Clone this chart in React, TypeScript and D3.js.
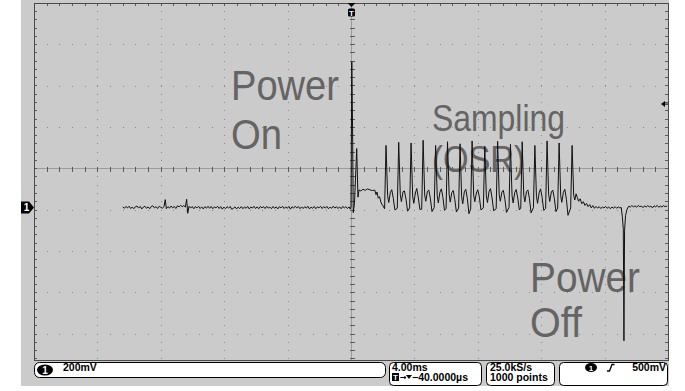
import React from 'react';
import * as d3 from 'd3';

type Pt = [number, number];

// channel 1 trace: [time in ms from trigger, level in mV]
const preTrigger: Pt[] = [
  [-14.4, 3], [-14.3, -4], [-14.2, 5], [-14.1, -2], [-14.0, 6], [-13.9, -5], [-13.8, 2], [-13.7, -6],
  [-13.6, 4], [-13.5, 7], [-13.4, -3], [-13.3, 5], [-13.2, -7], [-13.1, 2], [-13.0, 6], [-12.9, -4],
  [-12.8, 3], [-12.7, -6], [-12.6, 5], [-12.5, 8], [-12.4, -2], [-12.3, 4], [-12.2, -5], [-12.1, 6],
  [-12.0, 1], [-11.9, -4], [-11.8, 5], [-11.72, 38], [-11.65, -6], [-11.55, 4], [-11.45, -3], [-11.35, 7],
  [-11.25, -2], [-11.15, 5], [-11.05, -5], [-10.95, 8], [-10.85, 3], [-10.75, 10], [-10.65, 4], [-10.55, 9],
  [-10.45, 2], [-10.37, 40], [-10.3, -28], [-10.22, 6], [-10.12, -3], [-10.02, 5], [-9.92, -6], [-9.82, 4],
  [-9.72, -2], [-9.62, 6], [-9.52, -5], [-9.42, 3], [-9.32, -7], [-9.22, 4], [-9.12, -3], [-9.02, 6],
  [-8.92, -4], [-8.82, 5], [-8.72, -6], [-8.62, 3], [-8.52, -2], [-8.42, 6], [-8.32, -5], [-8.22, 4],
  [-8.12, -8], [-8.02, 2], [-7.92, -6], [-7.82, 4], [-7.72, -3], [-7.62, 5], [-7.52, -9], [-7.42, -4],
  [-7.32, 3], [-7.22, -7], [-7.12, 2], [-7.02, -5], [-6.92, 4], [-6.82, -6], [-6.72, 3], [-6.62, -4],
  [-6.52, 5], [-6.42, -7], [-6.32, 2], [-6.22, -3], [-6.12, 6], [-6.02, -5], [-5.92, 3], [-5.82, -6],
  [-5.72, 5], [-5.62, -2], [-5.52, 4], [-5.42, -5], [-5.32, 6], [-5.22, -3], [-5.12, 2], [-5.02, -6],
  [-4.92, 5], [-4.82, -4], [-4.72, 3], [-4.62, -7], [-4.52, 4], [-4.42, -2], [-4.32, 6], [-4.22, -5],
  [-4.12, 3], [-4.02, -4], [-3.92, 5], [-3.82, -8], [-3.72, 4], [-3.62, -3], [-3.52, 6], [-3.42, -2],
  [-3.32, 5], [-3.22, -6], [-3.12, 3], [-3.02, -5], [-2.92, 4], [-2.82, -3], [-2.72, 6], [-2.62, -7],
  [-2.52, 2], [-2.42, -4], [-2.32, 5], [-2.22, -6], [-2.12, 3], [-2.02, -2], [-1.92, 6], [-1.82, -5],
  [-1.72, 4], [-1.62, -3], [-1.52, 5], [-1.42, -6], [-1.32, 2], [-1.22, -4], [-1.12, 6], [-1.02, -3],
  [-0.92, 4], [-0.82, -5], [-0.72, 3], [-0.62, -6], [-0.52, 5], [-0.42, -2], [-0.32, 4], [-0.22, -5],
  [-0.12, 3], [-0.05, -8],
];

const powerOn: Pt[] = [
  [0.0, 2], [0.05, 705], [0.1, 380], [0.14, -25], [0.22, 20], [0.36, 285], [0.44, 50], [0.5, 85],
  [0.62, 80], [0.75, 88], [0.9, 83], [1.05, 90], [1.2, 85], [1.35, 82], [1.5, 84], [1.58, 62],
  [1.64, 75], [1.72, 45], [1.8, 52], [1.9, 22], [2.02, 8],
];

const samplingPulses: Pt[] = [
  [2.12, -6], [2.21, 300], [2.31, 58], [2.38, 24], [2.48, 72], [2.57, 86], [2.67, 44], [2.77, -12],
  [2.92, -4], [3.01, 315], [3.11, 62], [3.18, 28], [3.28, 76], [3.37, 80], [3.47, 40], [3.57, -18],
  [3.70, -2], [3.79, 312], [3.89, 55], [3.96, 20], [4.06, 70], [4.15, 92], [4.25, 46], [4.35, -10],
  [4.46, -8], [4.55, 325], [4.65, 60], [4.72, 30], [4.82, 78], [4.91, 84], [5.01, 42], [5.11, -20],
  [5.25, 0], [5.34, 300], [5.44, 57], [5.51, 22], [5.61, 74], [5.70, 90], [5.80, 48], [5.90, -14],
  [6.00, -5], [6.09, 318], [6.19, 64], [6.26, 26], [6.36, 72], [6.45, 82], [6.55, 38], [6.65, -22],
  [6.79, -3], [6.88, 308], [6.98, 52], [7.05, 18], [7.15, 76], [7.24, 88], [7.34, 44], [7.44, -30],
  [7.55, -7], [7.64, 322], [7.74, 60], [7.81, 28], [7.91, 70], [8.00, 86], [8.10, 50], [8.20, -12],
  [8.35, -2], [8.44, 296], [8.54, 56], [8.61, 24], [8.71, 78], [8.80, 91], [8.90, 46], [9.00, -16],
  [9.16, -6], [9.25, 320], [9.35, 62], [9.42, 30], [9.52, 74], [9.61, 83], [9.71, 40], [9.81, -24],
  [9.97, 1], [10.06, 305], [10.16, 58], [10.23, 22], [10.33, 72], [10.42, 87], [10.52, 46], [10.62, -12],
  [10.71, -4], [10.80, 318], [10.90, 60], [10.97, 27], [11.07, 77], [11.16, 85], [11.26, 42], [11.36, -26],
  [11.51, -1], [11.60, 300], [11.70, 54], [11.77, 20], [11.87, 71], [11.96, 90], [12.06, 48], [12.16, -14],
  [12.28, -5], [12.37, 322], [12.47, 63], [12.54, 29], [12.64, 75], [12.73, 84], [12.83, 44], [12.93, -20],
  [13.04, -3], [13.13, 312], [13.23, 57], [13.30, 25], [13.40, 73], [13.49, 88], [13.59, 40], [13.69, -38],
  [13.86, -2], [13.95, 300],
];

const powerOffTail: Pt[] = [
  [14.05, 58], [14.12, 36], [14.2, 66], [14.28, 48], [14.36, 30], [14.46, 42], [14.56, 18], [14.66, 28],
  [14.76, 10], [14.86, 20], [14.96, 4], [15.06, 14], [15.16, -2], [15.26, 9], [15.36, -4], [15.46, 5],
  [15.56, -3], [15.66, 4], [15.76, -5], [15.86, 2], [15.96, -2], [16.06, 5], [16.16, -4], [16.26, 3],
  [16.36, -6], [16.46, 2], [16.56, -3], [16.66, 4], [16.76, -4], [16.86, 3], [16.96, -2], [17.05, 0],
  [17.12, -45], [17.18, -105], [17.22, -645], [17.26, -110], [17.32, -40], [17.42, -8], [17.52, 6], [17.62, 2],
  [17.72, 9], [17.82, 3], [17.92, 8], [18.02, 1], [18.12, 10], [18.22, 4], [18.32, 7], [18.42, -1],
  [18.52, 8], [18.62, 2], [18.72, 9], [18.82, 3], [18.92, 7], [19.02, -2], [19.12, 8], [19.22, 3],
  [19.32, 10], [19.42, 1], [19.52, 7], [19.62, 2], [19.72, 9], [19.82, 4], [19.95, 7],
];

const labelOn = ['Power', 'On'];
const labelOsr = ['Sampling', '(OSR)'];
const labelOff = ['Power', 'Off'];

const channelScale = '200mV';
const timebase = '4.00ms';
const triggerDelay = '\u221240.0000\u00b5s';
const sampleRate = '25.0kS/s';
const recordLength = '1000 points';
const triggerLevelText = '500mV';

const mvPerDiv = 200;
const groundDiv = -0.95;
const triggerLevelMv = 500;

export default function App() {
  const left = 34, right = 668, top = 2.8, bottom = 360;
  const xDiv = d3.scaleLinear().domain([-5, 5]).range([left, right]);
  const xMs = d3.scaleLinear().domain([-20, 20]).range([left, right]);
  const yDiv = d3.scaleLinear().domain([-4, 4]).range([333.6, top]);
  const yMv = (mv: number) => yDiv(mv / mvPerDiv + groundDiv);

  const trace = [...preTrigger, ...powerOn, ...samplingPulses, ...powerOffTail];
  const line = d3.line<Pt>().x(d => xMs(d[0])).y(d => yMv(d[1]));

  const cx = Math.round(xDiv(0)) + 0.5;
  const cy = Math.round(yDiv(0)) + 0.5;
  const minorX = d3.range(-4.8, 4.9, 0.2);
  const minorY = d3.range(-4.6, 3.9, 0.2);
  const vLines = [-4, -3, -2, -1, 1, 2, 3, 4];
  const hLines = [-4, -3, -2, -1, 1, 2, 3];

  const dotColor = '#8a8a8a';
  const tickColor = '#5a5a5a';
  const labelStyle = { fontFamily: '"Liberation Sans", Arial, sans-serif', fill: '#646464' };
  const statusStyle = { fontFamily: '"Liberation Sans", Arial, sans-serif', fontWeight: 700, fontSize: 10.5, fill: '#000' };

  const groundY = yMv(0);
  const trigY = yMv(triggerLevelMv);

  return (
    <svg width={685} height={391} style={{ position: 'absolute', left: 0, top: 0, background: '#fff' }}>
      <rect x={21} y={0} width={648} height={386} fill="#cbcbcb" />

      <g shapeRendering="crispEdges">
        {vLines.map(v => minorY.map(m => (
          <rect key={`v${v}_${m}`} x={Math.round(xDiv(v))} y={Math.round(yDiv(m))} width={1} height={1} fill={dotColor} />
        )))}
        {hLines.map(h => minorX.map(m => (
          <rect key={`h${h}_${m}`} x={Math.round(xDiv(m))} y={Math.round(yDiv(h))} width={1} height={1} fill={dotColor} />
        )))}

        <line x1={cx} x2={cx} y1={top} y2={bottom} stroke="#9a9a9a" />
        <line x1={left} x2={right} y1={cy} y2={cy} stroke="#9a9a9a" />
        {minorY.map(m => (
          <line key={`cy${m}`} x1={cx - 2} x2={cx + 3} y1={Math.round(yDiv(m)) + 0.5} y2={Math.round(yDiv(m)) + 0.5} stroke={tickColor} />
        ))}
        {minorX.map(m => (
          <line key={`cx${m}`} y1={cy - 2} y2={cy + 3} x1={Math.round(xDiv(m)) + 0.5} x2={Math.round(xDiv(m)) + 0.5} stroke={tickColor} />
        ))}

        {minorX.map(m => (
          <line key={`tt${m}`} y1={top} y2={top + 3} x1={Math.round(xDiv(m)) + 0.5} x2={Math.round(xDiv(m)) + 0.5} stroke={tickColor} />
        ))}
        {minorY.map(m => (
          <g key={`lr${m}`}>
            <line x1={left} x2={left + 3} y1={Math.round(yDiv(m)) + 0.5} y2={Math.round(yDiv(m)) + 0.5} stroke={tickColor} />
            <line x1={right - 3} x2={right} y1={Math.round(yDiv(m)) + 0.5} y2={Math.round(yDiv(m)) + 0.5} stroke={tickColor} />
          </g>
        ))}
        <rect x={left + 0.5} y={Math.round(top) + 0.5} width={right - left} height={bottom - Math.round(top)} fill="none" stroke="#4a4a4a" />
      </g>

      <g style={labelStyle}>
        <text x={231} y={100} fontSize={43} textLength={108} lengthAdjust="spacingAndGlyphs">{labelOn[0]}</text>
        <text x={231} y={149} fontSize={43} textLength={51} lengthAdjust="spacingAndGlyphs">{labelOn[1]}</text>
        <text x={432} y={131} fontSize={37} textLength={133} lengthAdjust="spacingAndGlyphs">{labelOsr[0]}</text>
        <text x={432} y={172} fontSize={37} textLength={93} lengthAdjust="spacingAndGlyphs">{labelOsr[1]}</text>
        <text x={530} y={292} fontSize={43} textLength={110} lengthAdjust="spacingAndGlyphs">{labelOff[0]}</text>
        <text x={530} y={337} fontSize={43} textLength={52} lengthAdjust="spacingAndGlyphs">{labelOff[1]}</text>
      </g>

      <path d={line(trace) || ''} fill="none" stroke="#111" strokeWidth={1} strokeLinejoin="round" />

      {/* trigger position marker */}
      <path d={`M${cx - 4},3 L${cx + 4},3 L${cx},7 Z`} fill="#000" />
      <rect x={cx - 3.5} y={8.5} width={7} height={8} rx={1.5} fill="#000" />
      <text x={cx} y={15.5} textAnchor="middle" fontSize={8} fontWeight={700} fill="#fff" fontFamily="Liberation Sans, Arial">T</text>

      {/* channel 1 ground marker */}
      <path d={`M21,${groundY - 6} L29,${groundY - 6} L34,${groundY} L29,${groundY + 6} L21,${groundY + 6} Z`} fill="#000" />
      <text x={26.5} y={groundY + 4} textAnchor="middle" fontSize={10} fontWeight={700} fill="#fff" fontFamily="Liberation Sans, Arial">1</text>

      {/* trigger level marker */}
      <path d={`M661,${trigY} L665,${trigY - 3} L665,${trigY + 3} Z`} fill="#000" />
      <line x1={664} x2={668} y1={trigY} y2={trigY} stroke="#000" />

      {/* status bar */}
      <rect x={34.5} y={362.5} width={351} height={15} rx={5} fill="#fff" stroke="#000" />
      <ellipse cx={45} cy={370} rx={8} ry={5.5} fill="#000" />
      <text x={45} y={374} textAnchor="middle" fontSize={10} fontWeight={700} fill="#fff" fontFamily="Liberation Sans, Arial">1</text>
      <text x={63} y={371} style={statusStyle}>{channelScale}</text>

      <rect x={389.5} y={362.5} width={92} height={23} rx={4} fill="#fff" stroke="#000" />
      <text x={392} y={371} style={statusStyle}>{timebase}</text>
      <rect x={392} y={373} width={7} height={8} fill="#000" />
      <text x={395.5} y={380} textAnchor="middle" fontSize={8} fontWeight={700} fill="#fff" fontFamily="Liberation Sans, Arial">T</text>
      <text x={400} y={380} fontSize={8} fontWeight={700} fontFamily="DejaVu Sans">{'\u2192'}</text>
      <path d="M406,375 L412,375 L409,379 Z" fill="#000" />
      <text x={412} y={381} style={statusStyle}>{triggerDelay}</text>

      <rect x={486.5} y={362.5} width={68} height={23} rx={4} fill="#fff" stroke="#000" />
      <text x={490} y={371} style={statusStyle}>{sampleRate}</text>
      <text x={490} y={381} style={statusStyle}>{recordLength}</text>

      <rect x={559.5} y={362.5} width={108} height={23} rx={4} fill="#fff" stroke="#000" />
      <ellipse cx={591} cy={367.5} rx={6} ry={4.5} fill="#000" />
      <text x={591} y={371} textAnchor="middle" fontSize={8} fontWeight={700} fill="#fff" fontFamily="Liberation Sans, Arial">1</text>
      <path d="M607,371 L609.5,371 L612,364.5 L614.5,364.5" fill="none" stroke="#000" strokeWidth={1.3} />
      <text x={666} y={371} textAnchor="end" style={statusStyle}>{triggerLevelText}</text>
    </svg>
  );
}
